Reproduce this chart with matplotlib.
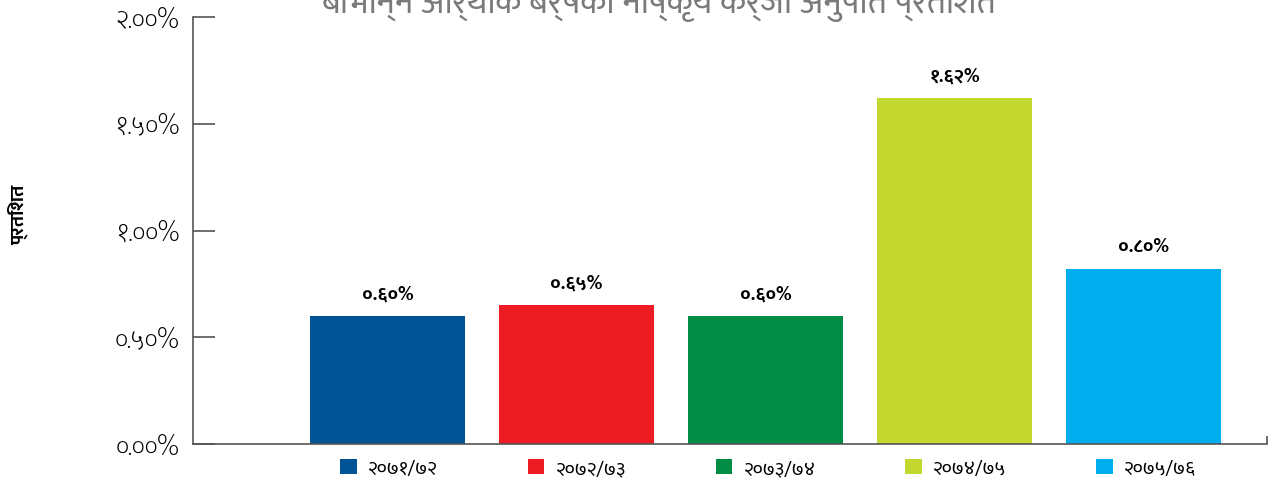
import matplotlib
matplotlib.use("Agg")
from matplotlib import pyplot as plt
from matplotlib import font_manager
from matplotlib.patches import Patch

# data
years = ["२०७१/७२", "२०७२/७३", "२०७३/७४", "२०७४/७५", "२०७५/७६"]
npl_ratio = [0.60, 0.65, 0.60, 1.62, 0.82]
bar_labels = ["०.६०%", "०.६५%", "०.६०%", "१.६२%", "०.८०%"]
yticks = [0.0, 0.5, 1.0, 1.5, 2.0]
ytick_labels = ["०.००%", "०.५०%", "१.००%", "१.५०%", "२.००%"]
colors = ["#005496", "#ed1c24", "#008c45", "#c2d82f", "#00aeef"]
title = "बिभिन्न आर्थिक बर्षको निष्कृय कर्जा अनुपात प्रतिशत"
ylabel = "प्रतिशत"

# pick a font that has devanagari
names = set(f.name for f in font_manager.fontManager.ttflist)
deva = "DejaVu Sans"
for cand in ["Mukta", "Hind", "Noto Sans Devanagari", "Annapurna SIL"]:
    if cand in names:
        deva = cand
        break
plt.rcParams['font.family'] = [deva, 'DejaVu Sans']

fig = plt.figure(figsize=(12.69, 4.89), dpi=100)
ax = fig.add_axes([193/1269, 1 - 445/489, (1267-193)/1269, (445-18)/489])

x = list(range(len(years)))
bars = ax.bar(x, npl_ratio, width=0.82, color=colors)

for b, lab in zip(bars, bar_labels):
    ax.annotate(lab, (b.get_x() + b.get_width()/2, b.get_height()),
                xytext=(0, 16), textcoords="offset points",
                ha="center", va="center", fontsize=14, fontweight="bold")

ax.set_ylim(0, 2.0)
ax.set_xlim(-1.029, 4.653)
ax.set_yticks(yticks)
ax.set_yticklabels(ytick_labels, fontsize=19, fontweight="light")
ax.tick_params(axis="y", direction="in", length=16, width=1.2, color="#555555", pad=10)
ax.set_xticks([4.653])
ax.set_xticklabels([])
ax.tick_params(axis="x", direction="in", length=6, width=1.2, color="#555555")

for s in ["top", "right"]:
    ax.spines[s].set_visible(False)
for s in ["left", "bottom"]:
    ax.spines[s].set_color("#555555")
    ax.spines[s].set_linewidth(1.2)

fig.text(18/1269, 1 - 215/489, ylabel, rotation=90, ha="center", va="center",
         fontsize=14, fontweight="bold")
fig.text(659/1269, 1 - 2/489, title, ha="center", va="center", fontsize=25, color="#7a7a7a")

handles = [Patch(facecolor=c, label=y) for c, y in zip(colors, years)]
fig.legend(handles=handles, loc="center", ncol=5, frameon=False,
           bbox_to_anchor=(768/1269, 1 - 469/489), fontsize=14,
           handlelength=0.85, handleheight=0.85, handletextpad=0.6, columnspacing=4.6)

fig.savefig("out.png")
